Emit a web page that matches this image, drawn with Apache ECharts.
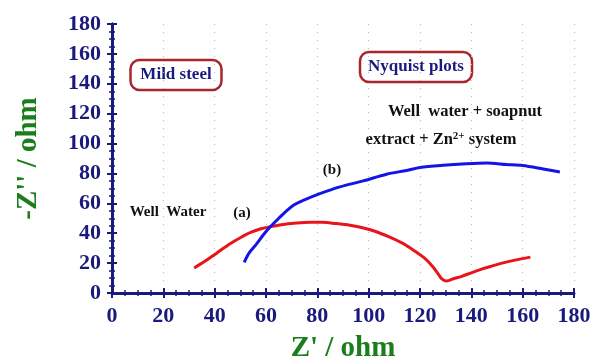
<!DOCTYPE html>
<html>
<head>
<meta charset="utf-8">
<style>
  html, body { margin: 0; padding: 0; background: #fff; }
  #chart { width: 595px; height: 361px; }
</style>
<script src="https://cdn.jsdelivr.net/npm/echarts@6/dist/echarts.min.js"></script>
</head>
<body>
<div id="chart"></div>
<script>
// Curve (a): mild steel in well water
const wellWaterZre = [32, 36, 41, 46, 50, 54, 58, 61.5, 66, 72, 77, 82, 87, 92.7, 98, 103, 108, 113.5, 118, 122, 125, 127, 128.5, 130.5, 133, 136, 140, 144, 148, 152, 157, 163];
const wellWaterZim = [16.7, 21, 27, 33, 37, 40.5, 43, 44.3, 45.7, 46.8, 47.3, 47.3, 46.5, 45.3, 43.5, 41, 37.5, 33, 28, 23, 17.5, 13, 9.5, 8, 9.5, 11, 13.5, 16, 18, 20, 22, 24];

// Curve (b): well water + soapnut extract + Zn2+ system
const inhibitedZre = [51.5, 53.5, 56.4, 59, 61.5, 65, 68, 71, 74.5, 81, 88.8, 97.8, 107, 114.8, 120, 129, 138, 146, 153.7, 160, 168, 174.5];
const inhibitedZim = [20.5, 27, 33, 39, 44, 50, 55, 59, 62, 66.5, 71, 75, 79.5, 82, 84, 85.5, 86.5, 87, 86, 85.3, 83, 81];

// Axis ranges and tick step
const axisMin = 0;
const axisMax = 180;
const tickStep = 20;

const pairs = (xs, ys) => xs.map((x, i) => [x, ys[i]]);

const NAVY = '#1a1a7c';
const GREEN = '#1b7d1b';
const SERIF = '"Liberation Serif", "Times New Roman", serif';

const chart = echarts.init(document.getElementById('chart'), null, { renderer: 'canvas' });

const tickFont = { color: NAVY, fontFamily: SERIF, fontWeight: 'bold', fontSize: 22 };

const valueAxis = (extra) => Object.assign({
  type: 'value',
  min: axisMin,
  max: axisMax,
  interval: tickStep,
  axisLine: { show: true, lineStyle: { color: NAVY, width: 3 } },
  axisTick: { show: true, inside: false, length: 5, lineStyle: { color: NAVY, width: 2 } },
  minorTick: { show: true, splitNumber: 4, length: 3, lineStyle: { color: NAVY, width: 1.5 } },
  axisLabel: Object.assign({}, tickFont),
  splitLine: { show: false }
}, extra);

const boxLabel = (cx, cy, w, h, text) => ({
  type: 'group',
  children: [
    {
      type: 'rect',
      shape: { x: cx - w / 2, y: cy - h / 2, width: w, height: h, r: 9 },
      style: { fill: '#fff', stroke: '#a8262b', lineWidth: 2.5 }
    },
    {
      type: 'text',
      x: cx, y: cy,
      style: { text: text, fill: NAVY, font: 'bold 17px ' + SERIF, textAlign: 'center', textVerticalAlign: 'middle' }
    }
  ]
});

const plainText = (x, y, text, size) => ({
  type: 'text',
  x: x, y: y,
  style: { text: text, fill: '#111', font: 'bold ' + size + 'px ' + SERIF, textAlign: 'center', textVerticalAlign: 'middle' }
});

chart.setOption({
  animation: false,
  backgroundColor: '#fff',
  grid: { left: 112, right: 21, top: 24, bottom: 68, containLabel: false, outerBoundsMode: 'none' },
  xAxis: [
    valueAxis({
      position: 'bottom',
      axisLabel: Object.assign({}, tickFont, { margin: 12 }),
      splitLine: { show: true, lineStyle: { color: '#b8b8b8', type: [1, 7], width: 1 } },
      name: "Z' / ohm",
      nameLocation: 'middle',
      nameGap: 41,
      nameTextStyle: { color: GREEN, fontFamily: SERIF, fontWeight: 'bold', fontSize: 29 }
    }),
    valueAxis({
      position: 'top',
      axisLine: { show: true, lineStyle: { color: NAVY, width: 2 } },
      axisLabel: { show: false }
    })
  ],
  yAxis: [
    valueAxis({
      position: 'left',
      axisLabel: Object.assign({}, tickFont, { margin: 11 }),
      name: "-Z'' / ohm",
      nameLocation: 'middle',
      nameGap: 69,
      nameRotate: 90,
      nameTextStyle: { color: GREEN, fontFamily: SERIF, fontWeight: 'bold', fontSize: 29 }
    }),
    valueAxis({
      position: 'right',
      axisLabel: { show: false }
    })
  ],
  series: [
    {
      name: 'Well Water',
      type: 'line',
      data: pairs(wellWaterZre, wellWaterZim),
      showSymbol: false,
      smooth: 0.3,
      lineStyle: { color: '#e8141b', width: 3 },
      z: 3
    },
    {
      name: 'Well water + soapnut extract + Zn2+ system',
      type: 'line',
      data: pairs(inhibitedZre, inhibitedZim),
      showSymbol: false,
      smooth: 0.3,
      lineStyle: { color: '#1414e6', width: 3 },
      z: 4
    }
  ],
  graphic: [
    boxLabel(176, 75, 91, 30, 'Mild steel'),
    boxLabel(416, 67, 112, 30, 'Nyquist plots'),
    plainText(465, 112, 'Well  water + soapnut', 16.5),
    {
      type: 'text',
      x: 441, y: 140,
      style: {
        text: '{t|extract + Zn}{s|2+}{t| system}',
        textAlign: 'center',
        textVerticalAlign: 'middle',
        rich: {
          t: { fill: '#111', fontFamily: SERIF, fontWeight: 'bold', fontSize: 16.5 },
          s: { fill: '#111', fontFamily: SERIF, fontWeight: 'bold', fontSize: 11, verticalAlign: 'top', padding: [0, 0, 7, 0] }
        }
      }
    },
    plainText(332, 170, '(b)', 15),
    plainText(242, 213, '(a)', 15),
    plainText(168, 212, 'Well  Water', 15)
  ]
});
</script>
</body>
</html>
